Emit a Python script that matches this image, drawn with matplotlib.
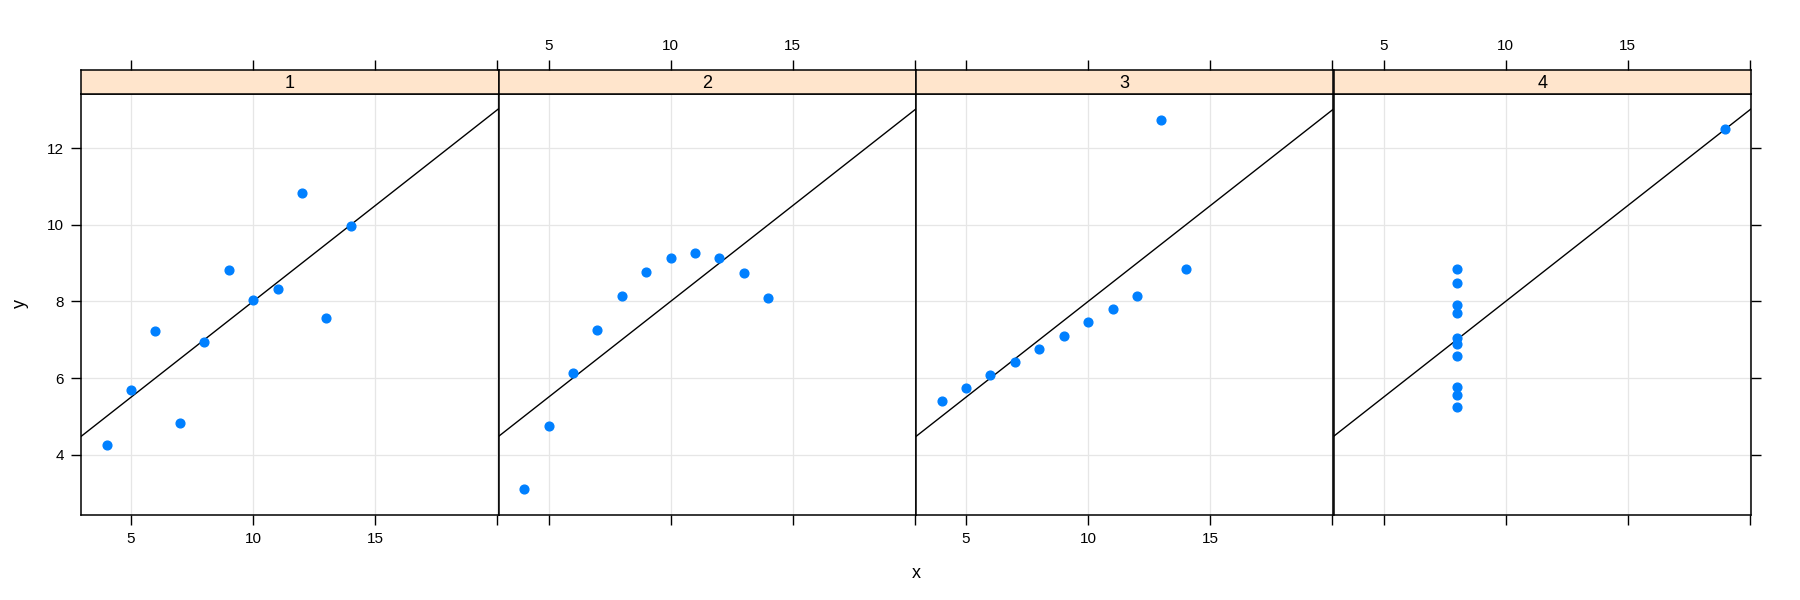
import numpy as np
import matplotlib
matplotlib.use("Agg")
import matplotlib.pyplot as plt

plt.rcParams['font.family'] = ['Liberation Sans', 'DejaVu Sans']

panels = ["1", "2", "3", "4"]
x123 = [10, 8, 13, 9, 11, 14, 6, 4, 12, 7, 5]
x4 = [8, 8, 8, 8, 8, 8, 8, 19, 8, 8, 8]
y1 = [8.04, 6.95, 7.58, 8.81, 8.33, 9.96, 7.24, 4.26, 10.84, 4.82, 5.68]
y2 = [9.14, 8.14, 8.74, 8.77, 9.26, 8.10, 6.13, 3.10, 9.13, 7.26, 4.74]
y3 = [7.46, 6.77, 12.74, 7.11, 7.81, 8.84, 6.08, 5.39, 8.15, 6.42, 5.73]
y4 = [6.58, 5.76, 7.71, 8.84, 8.47, 7.04, 5.25, 12.50, 5.56, 7.91, 6.89]
xs = [x123, x123, x123, x4]
ys = [y1, y2, y3, y4]
xticks = [5, 10, 15, 20]
xticklabels = ["5", "10", "15", ""]
yticks = [4, 6, 8, 10, 12]

allx = np.concatenate([np.array(v, float) for v in xs])
ally = np.concatenate([np.array(v, float) for v in ys])
def ext(a):
    lo, hi = a.min(), a.max()
    d = 0.07 * (hi - lo)
    return lo - d, hi + d
xlim = ext(allx)
ylim = ext(ally)

W, H = 1800, 600
fig = plt.figure(figsize=(18, 6), dpi=100)
left, right = 81 / W, 1751 / W
bottom, top = 1 - 515 / H, 1 - 94 / H
strip_h = 24 / H
pw = (right - left) / 4

dot = '#0080ff'
grid_c = '#e6e6e6'
lw_frame = 1.1
tlen = 7.3
tsize = 11
tpad = 5

for i in range(4):
    ax = fig.add_axes([left + i * pw, bottom, pw, top - bottom])
    sx = fig.add_axes([left + i * pw, top, pw, strip_h])
    ax.set_xlim(*xlim); ax.set_ylim(*ylim)
    sx.set_xlim(*xlim); sx.set_ylim(0, 1)
    for t in xticks:
        ax.axvline(t, color=grid_c, lw=0.9, zorder=0)
    for t in yticks:
        ax.axhline(t, color=grid_c, lw=0.9, zorder=0)
    xv = np.array(xs[i], float); yv = np.array(ys[i], float)
    b, a = np.polyfit(xv, yv, 1)
    ax.axline((0, a), slope=b, color='black', lw=1.0, zorder=2)
    ax.plot(xv, yv, 'o', color=dot, ms=6.3, mec=dot, zorder=3)

    for s in ax.spines.values():
        s.set_linewidth(lw_frame)
    for s in sx.spines.values():
        s.set_linewidth(lw_frame)
    sx.set_facecolor('#ffe5cc')
    sx.text(0.5, 0.45, panels[i], transform=sx.transAxes, ha='center',
            va='center', fontsize=13)

    ax.set_xticks(xticks)
    sx.set_xticks(xticks)
    ax.tick_params(axis='x', direction='out', length=tlen, width=1.0,
                   labelsize=tsize, pad=tpad, top=False)
    sx.tick_params(axis='x', direction='out', length=tlen, width=1.0,
                   labelsize=tsize, pad=tpad, bottom=False, top=True,
                   labelbottom=False)
    if i % 2 == 0:
        ax.set_xticklabels(xticklabels)
        sx.tick_params(labeltop=False)
    else:
        ax.set_xticklabels([])
        sx.set_xticklabels(xticklabels)
        sx.tick_params(labeltop=True)
    sx.set_yticks([])

    ax.set_yticks(yticks)
    if i == 0:
        ax.tick_params(axis='y', direction='out', length=tlen, width=1.0,
                       labelsize=tsize, pad=tpad, left=True, right=False)
    elif i == 3:
        ax.tick_params(axis='y', direction='out', length=tlen, width=1.0,
                       left=False, right=True, labelleft=False,
                       labelright=False)
    else:
        ax.tick_params(axis='y', left=False, right=False, labelleft=False)

fig.text((left + right) / 2, 1 - 574 / H, "x", ha='center', va='center',
         fontsize=13)
fig.text(20 / W, 1 - 304 / H, "y", ha='center', va='center', fontsize=13,
         rotation=90)

fig.savefig("out.png", dpi=100)
